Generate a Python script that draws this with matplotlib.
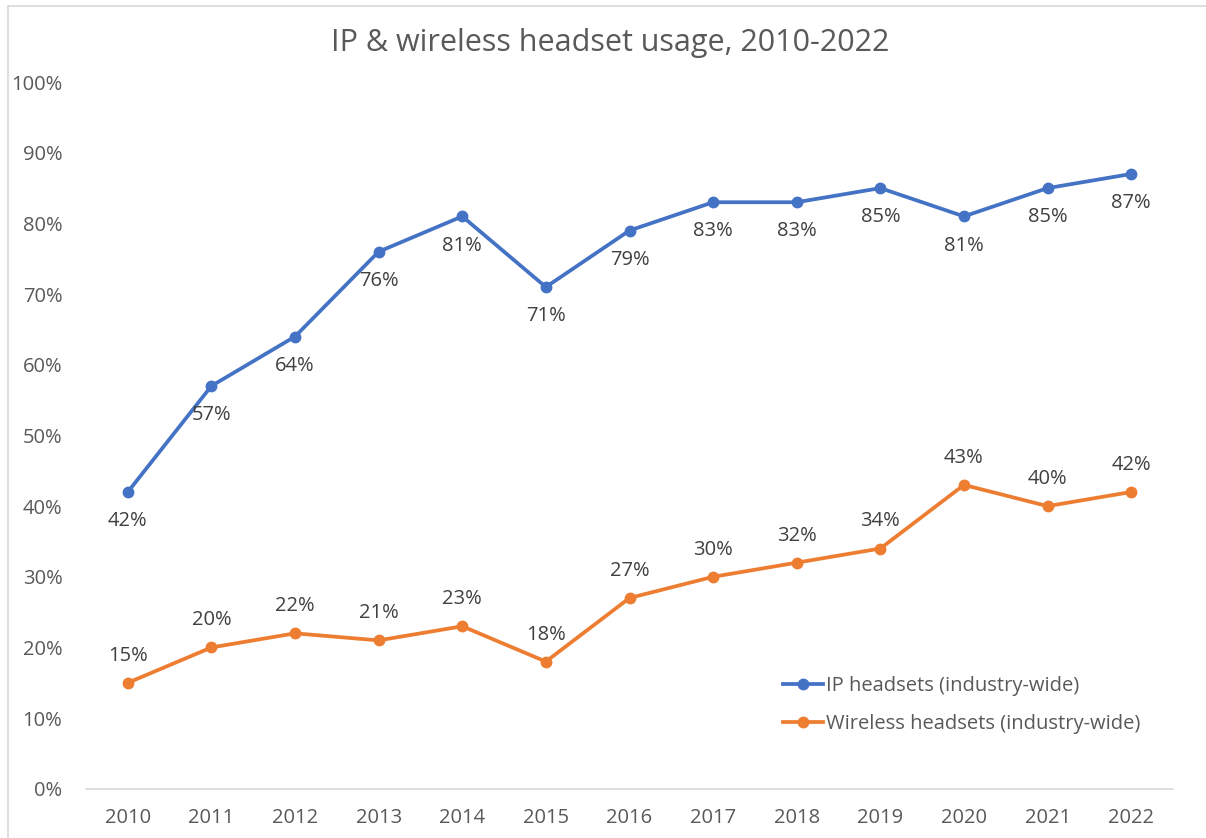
import matplotlib.pyplot as plt
from matplotlib.lines import Line2D
from matplotlib.ticker import PercentFormatter

years = ["2010", "2011", "2012", "2013", "2014", "2015", "2016",
         "2017", "2018", "2019", "2020", "2021", "2022"]
ip_headsets = [42, 57, 64, 76, 81, 71, 79, 83, 83, 85, 81, 85, 87]
wireless_headsets = [15, 20, 22, 21, 23, 18, 27, 30, 32, 34, 43, 40, 42]

plt.rcParams["font.family"] = ["Open Sans", "DejaVu Sans"]

W, H = 1206, 838
fig = plt.figure(figsize=(W / 100, H / 100), dpi=100)
ax = fig.add_axes([86 / W, 1 - 788.8 / H, (1173 - 86) / W, 706.7 / H])

x = list(range(len(years)))
blue = "#4472C4"
orange = "#ED7D31"
txt = "#404040"
grey = "#595959"
fs = 14.5

ax.plot(x, [v / 100 for v in ip_headsets], color=blue, lw=2.7, marker="o",
        markersize=7.5, label="IP headsets (industry-wide)", zorder=3)
ax.plot(x, [v / 100 for v in wireless_headsets], color=orange, lw=2.7, marker="o",
        markersize=7.5, label="Wireless headsets (industry-wide)", zorder=3)

# Datenbeschriftungen: blau unten, orange oben
for i, v in enumerate(ip_headsets):
    ax.annotate(f"{v}%", (i, v / 100), xytext=(0, -21), textcoords="offset points",
                ha="center", va="center", fontsize=fs, color=txt)
for i, v in enumerate(wireless_headsets):
    ax.annotate(f"{v}%", (i, v / 100), xytext=(0, 19.5), textcoords="offset points",
                ha="center", va="center", fontsize=fs, color=txt)

ax.set_xlim(-0.5, len(years) - 0.5)
ax.set_ylim(0, 1.0)
ax.set_xticks(x)
ax.set_xticklabels(years)
ax.set_yticks([i / 10 for i in range(11)])
ax.yaxis.set_major_formatter(PercentFormatter(1.0, decimals=0))
ax.tick_params(axis="both", length=0, labelsize=fs, labelcolor=grey)
ax.tick_params(axis="y", pad=17)
ax.tick_params(axis="x", pad=14)

for s in ["top", "right", "left"]:
    ax.spines[s].set_visible(False)
ax.spines["bottom"].set_color("#D9D9D9")
ax.spines["bottom"].set_linewidth(1.2)

fig.text(610 / W, 1 - 43 / H, "IP & wireless headset usage, 2010-2022", ha="center",
         va="center", fontsize=22, color=grey)

leg = ax.legend(loc="upper left", bbox_to_anchor=(783 / W, 1 - 676 / H),
                bbox_transform=fig.transFigure, frameon=False, fontsize=fs,
                borderpad=0, borderaxespad=0, labelspacing=0.9,
                handlelength=2.0, handletextpad=0.15)
for t in leg.get_texts():
    t.set_color(grey)

# Rahmen (oben und links sichtbar)
fig.lines.append(Line2D([8 / W, 1], [1 - 6 / H, 1 - 6 / H], transform=fig.transFigure,
                        color="#D9D9D9", lw=1.2))
fig.lines.append(Line2D([8 / W, 8 / W], [0, 1 - 6 / H], transform=fig.transFigure,
                        color="#D9D9D9", lw=1.2))

fig.savefig("out.png", dpi=100)
